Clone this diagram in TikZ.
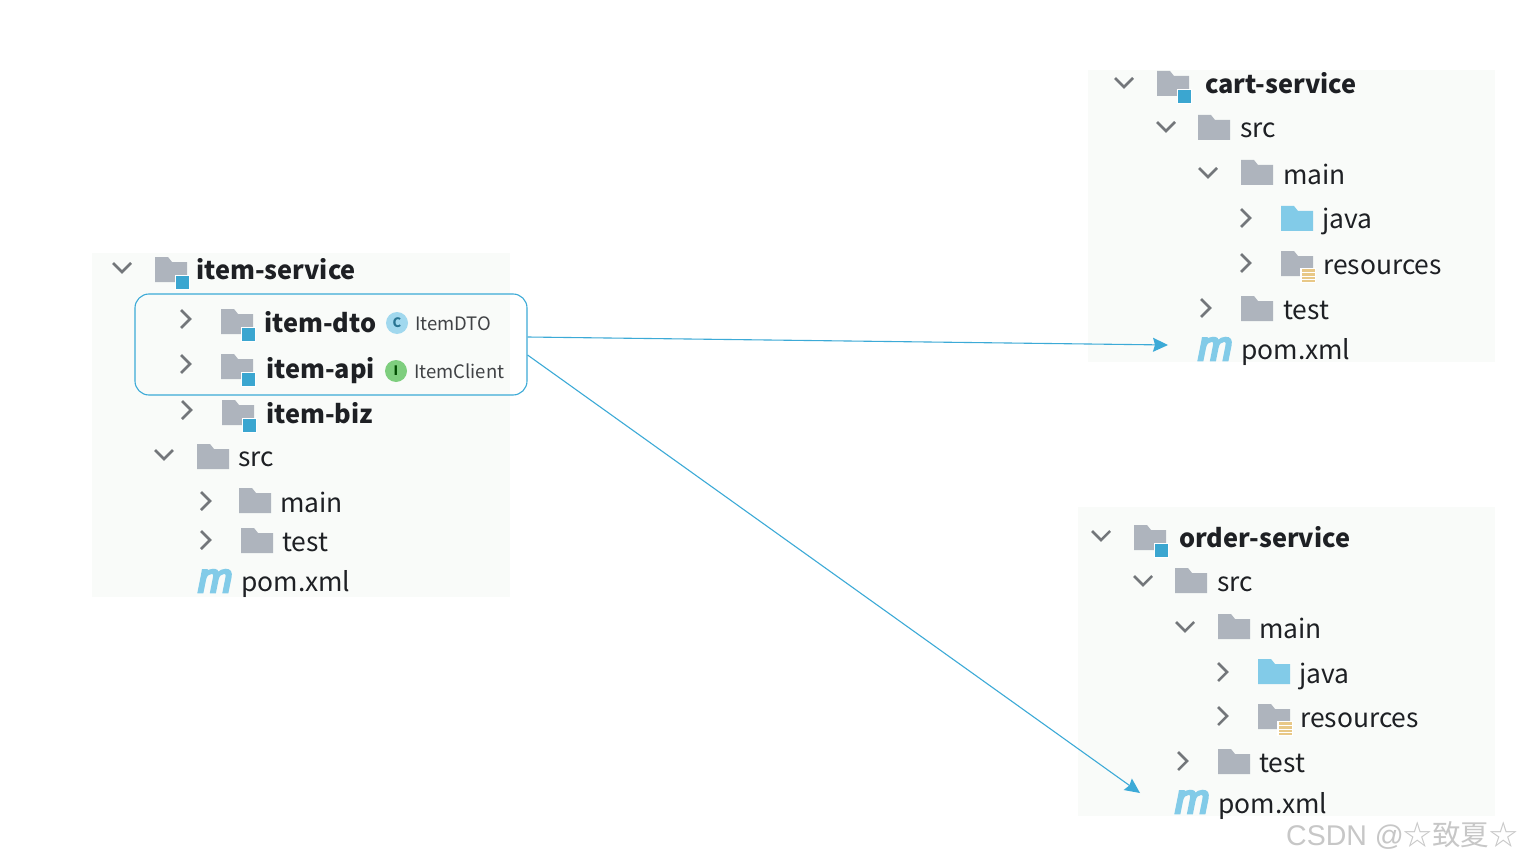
\documentclass[tikz,border=0pt]{standalone}
\usepackage{fontspec}
\setmainfont{Noto Sans CJK SC}
\newfontfamily\markfont{Liberation Sans}
\newfontfamily\pomfont[FakeBold=6,FakeSlant=0.2]{Liberation Sans}
\newfontfamily\cjk{Noto Sans CJK SC}
\usetikzlibrary{arrows.meta,positioning,calc}
\definecolor{colFond}{RGB}{249,251,249}
\definecolor{colDossier}{RGB}{174,180,189}
\definecolor{colSource}{RGB}{130,203,232}
\definecolor{colModule}{RGB}{59,166,208}
\definecolor{colRes}{RGB}{232,200,135}
\definecolor{colFleche}{RGB}{60,170,215}
\definecolor{colChevron}{RGB}{115,118,122}
\definecolor{colTexte}{RGB}{30,32,36}
\begin{document}
\begin{tikzpicture}[x=1pt,y=-1pt,
    panel/.style={fill=colFond, draw=none},
    lbl/.style={anchor=base west, inner sep=0pt, text=colTexte,
      font=\fontsize{26.4}{30}\selectfont},
    modlbl/.style={lbl, font=\fontsize{25.3}{30}\selectfont\bfseries},
    clslbl/.style={lbl, font=\fontsize{18.5}{24}\selectfont, text=colTexte!85},
    pomic/.style={anchor=center, inner sep=0pt, text=colSource,
      font=\fontsize{41}{41}\pomfont},
    badge/.style={circle, inner sep=0pt, minimum size=22pt,
      font=\fontsize{13}{14}\selectfont\bfseries},
    fl/.style={-{Stealth[length=15pt,width=14pt,inset=2pt]}, colFleche, line width=1.1pt},
    pics/dossier/.style={code={
      \fill[#1] (0,-13)--(13,-13)--(17,-8)--(32,-8)--(32,12)--(0,12)--cycle;}},
    pics/modic/.style={code={
      \fill[colDossier] (0,-13)--(13,-13)--(17,-8)--(32,-8)--(32,12)--(0,12)--cycle;
      \fill[colModule, draw=white] (20,5) rectangle (34,19);}},
    pics/resic/.style={code={
      \fill[colDossier] (0,-13)--(13,-13)--(17,-8)--(32,-8)--(32,12)--(0,12)--cycle;
      \fill[white] (19,4) rectangle (35,19);
      \fill[colRes] (21,5) rectangle (34,18);
      \foreach \ligne in {8.5,12,15.5}
        \draw[white, line width=0.8pt] (21,\ligne)--(34,\ligne);}},
    pics/ouvert/.style={code={
      \draw[colChevron, line width=2.5pt] (-9,-5)--(0,4)--(9,-5);}},
    pics/ferme/.style={code={
      \draw[colChevron, line width=2.5pt] (-5,-9)--(4,0)--(-5,9);}}]
    \useasboundingbox (0,0) rectangle (1523,861);
    \fill[white] (0,0) rectangle (1523,861);
    \fill[panel] (92,253) rectangle (510,597);
    \fill[panel] (1088,70) rectangle (1495,362);
    \fill[panel] (1078,507) rectangle (1495,816);
    % item-service
    \pic at (122,268) {ouvert};
    \pic at (155,270) {modic};
    \node[modlbl] (item) at (196,279) {item-service};
    \pic at (186,319) {ferme};
    \pic at (221,322) {modic};
    \node[modlbl] (dto) at (264,332) {item-dto};
    \node[badge, fill=colSource!75, text=colModule!70!black] (cbadge) at (397,323) {C};
    \node[clslbl] (dtocls) at (415,330) {ItemDTO};
    \pic at (186,364) {ferme};
    \pic at (221,367) {modic};
    \node[modlbl] (api) at (266,378) {item-api};
    \node[badge, fill=green!45!gray!70, text=green!30!black] (ibadge) at (396,371) {I};
    \node[clslbl] (apicls) at (414,378) {ItemClient};
    \pic at (187,410) {ferme};
    \pic at (222,413) {modic};
    \node[modlbl] (biz) at (266,423) {item-biz};
    \pic at (164,455) {ouvert};
    \pic at (197,457) {dossier=colDossier};
    \node[lbl] (isrc) at (238,466) {src};
    \pic at (206,501) {ferme};
    \pic at (239,501) {dossier=colDossier};
    \node[lbl] (imain) at (280,512) {main};
    \pic at (206,540) {ferme};
    \pic at (241,541) {dossier=colDossier};
    \node[lbl] (itest) at (282,551) {test};
    \node[pomic] (ipomic) at (213,581) {m};
    \node[lbl] (ipom) at (241,591) {pom.xml};
    % cart-service
    \pic at (1124,83) {ouvert};
    \pic at (1157,84) {modic};
    \node[modlbl] (cart) at (1205,94) {cart-service};
    \pic at (1166,127) {ouvert};
    \pic at (1198,128) {dossier=colDossier};
    \node[lbl] (csrc) at (1240,138) {src};
    \pic at (1208,173) {ouvert};
    \pic at (1241,173) {dossier=colDossier};
    \node[lbl] (cmain) at (1283,185) {main};
    \pic at (1246,218) {ferme};
    \pic at (1281,219) {dossier=colSource};
    \node[lbl] (cjava) at (1322,229) {java};
    \pic at (1246,263) {ferme};
    \pic at (1281,264) {resic};
    \node[lbl] (cres) at (1323,274) {resources};
    \pic at (1206,308) {ferme};
    \pic at (1241,309) {dossier=colDossier};
    \node[lbl] (ctest) at (1283,319) {test};
    \node[pomic] (cpomic) at (1213,349) {m};
    \node[lbl] (cpom) at (1241,359) {pom.xml};
    % order-service
    \pic at (1101,536) {ouvert};
    \pic at (1134,538) {modic};
    \node[modlbl] (order) at (1179,547) {order-service};
    \pic at (1143,581) {ouvert};
    \pic at (1175,581) {dossier=colDossier};
    \node[lbl] (osrc) at (1217,591) {src};
    \pic at (1185,627) {ouvert};
    \pic at (1218,627) {dossier=colDossier};
    \node[lbl] (omain) at (1259,638) {main};
    \pic at (1223,672) {ferme};
    \pic at (1258,672) {dossier=colSource};
    \node[lbl] (ojava) at (1299,683) {java};
    \pic at (1223,716) {ferme};
    \pic at (1258,717) {resic};
    \node[lbl] (ores) at (1300,727) {resources};
    \pic at (1183,761) {ferme};
    \pic at (1218,762) {dossier=colDossier};
    \node[lbl] (otest) at (1259,772) {test};
    \node[pomic] (opomic) at (1190,802) {m};
    \node[lbl] (opom) at (1218,813) {pom.xml};
    % liaisons
    \node[draw=colFleche, line width=1.1pt, rounded corners=14pt, minimum width=392pt,
      minimum height=101pt, inner sep=0pt] (apibox) at (331,344.5) {};
    \coordinate (cartfin) at (1168,345);
    \coordinate (orderfin) at (1140,793);
    \draw[fl] ([yshift=7.5pt]apibox.east)--(cartfin);
    \draw[fl] ([yshift=-10.5pt]apibox.east)--(orderfin);
    \node[anchor=base east, inner sep=0pt, text=black!22,
      font=\fontsize{28.5}{30}\markfont] (marque) at (1518,845)
      {CSDN @{\cjk ☆致夏☆}};
  \end{tikzpicture}
\end{document}
